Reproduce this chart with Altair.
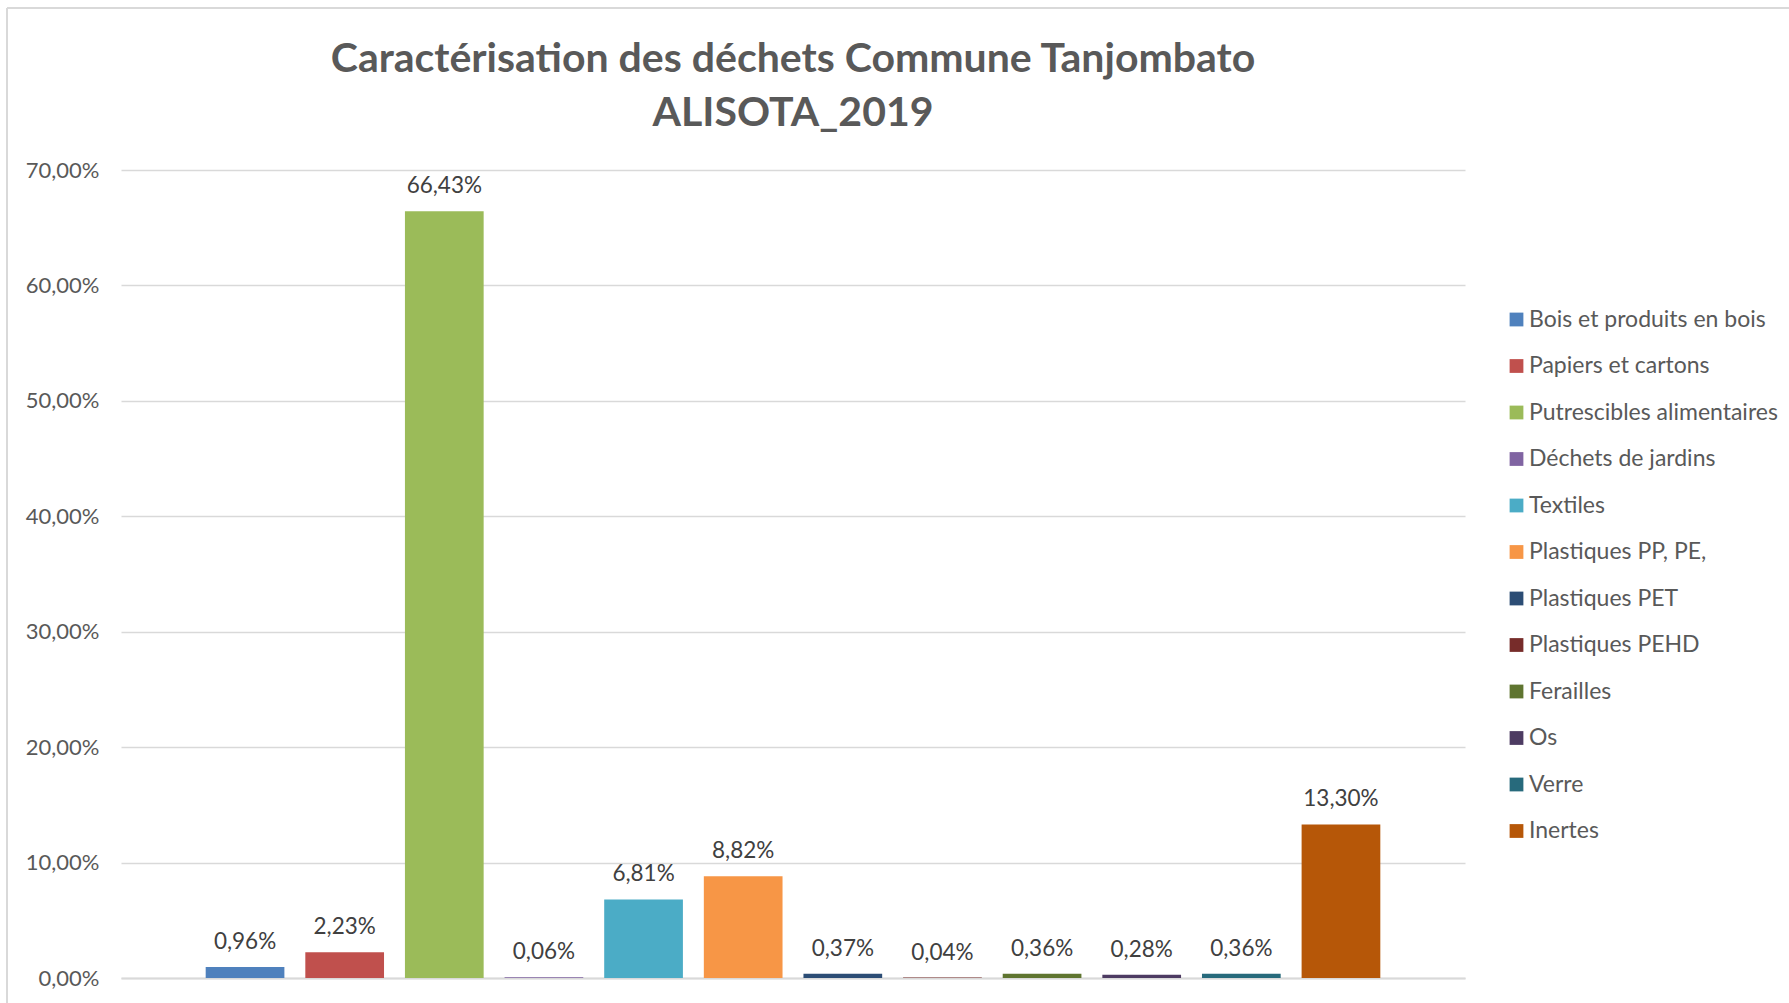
import altair as alt
import pandas as pd

categories = [
    "Bois et produits en bois",
    "Papiers et cartons",
    "Putrescibles alimentaires",
    "Déchets de jardins",
    "Textiles",
    "Plastiques PP, PE,",
    "Plastiques PET",
    "Plastiques PEHD",
    "Ferailles",
    "Os",
    "Verre",
    "Inertes",
]
values = [0.96, 2.23, 66.43, 0.06, 6.81, 8.82, 0.37, 0.04, 0.36, 0.28, 0.36, 13.30]
colors = [
    "#4F81BD", "#C0504D", "#9BBB59", "#8064A2", "#4BACC6", "#F79646",
    "#2C4D75", "#772C2A", "#5F7530", "#4D3B62", "#276A7C", "#B65708",
]
y_ticks = [0, 10, 20, 30, 40, 50, 60, 70]
title_lines = ["Caractérisation des déchets Commune Tanjombato", "ALISOTA_2019"]

df = pd.DataFrame({"cat": categories, "val": values})

FONT = "Lato"
GREY = "#595959"

x_enc = alt.X(
    "cat:N",
    sort=categories,
    scale=alt.Scale(paddingInner=0.21, paddingOuter=0.85),
    axis=alt.Axis(labels=False, ticks=False, title=None, domainColor="#D9D9D9",
                  domainWidth=2, grid=False),
)
y_enc = alt.Y(
    "val:Q",
    scale=alt.Scale(domain=[0, 70], nice=False),
    axis=alt.Axis(
        values=y_ticks,
        title=None,
        ticks=False,
        domain=False,
        labelPadding=22,
        labelFontSize=22,
        labelFont=FONT,
        labelColor=GREY,
        gridColor="#D9D9D9",
        gridWidth=1.5,
        labelExpr="replace(format(datum.value, '.2f'), '.', ',') + '%'",
    ),
)

bars = alt.Chart(df).mark_bar().encode(
    x=x_enc,
    y=y_enc,
    color=alt.Color(
        "cat:N",
        scale=alt.Scale(domain=categories, range=colors),
        legend=alt.Legend(
            title=None,
            orient="none",
            legendX=1384,
            legendY=138,
            symbolType="square",
            symbolSize=190,
            symbolStrokeWidth=0,
            labelFontSize=23,
            labelFont=FONT,
            labelColor=GREY,
            labelOffset=1,
            rowPadding=22.5,
            labelLimit=400,
        ),
    ),
)

labels = alt.Chart(df).transform_calculate(
    lab="replace(format(datum.val, '.2f'), '.', ',') + '%'"
).mark_text(
    font=FONT, fontSize=22.5, color="#404040", baseline="alphabetic", dy=-18
).encode(
    x=alt.X("cat:N", sort=categories),
    y="val:Q",
    text="lab:N",
)

frame_data = alt.Data(values=[{"k": 1}])
frame_top = alt.Chart(frame_data).mark_rule(color="#D9D9D9", strokeWidth=2).encode(
    x=alt.value(-114), x2=alt.value(1668), y=alt.value(-162)
)
frame_left = alt.Chart(frame_data).mark_rule(color="#D9D9D9", strokeWidth=2).encode(
    x=alt.value(-114), y=alt.value(-162), y2=alt.value(833)
)

chart = alt.layer(bars, labels, frame_top, frame_left).properties(
    width=1344,
    height=808,
    background="white",
    padding={"left": 121, "top": 170, "right": 324, "bottom": 25},
    autosize=alt.AutoSizeParams(type="none"),
    title=alt.TitleParams(
        text=title_lines,
        font=FONT,
        fontSize=41,
        fontWeight="bold",
        color=GREY,
        lineHeight=54,
        anchor="middle",
        baseline="alphabetic",
        offset=-160,
    ),
).configure_view(stroke="transparent", strokeWidth=0)

chart.save("out.html", embed_options={"renderer": "svg", "actions": False})
